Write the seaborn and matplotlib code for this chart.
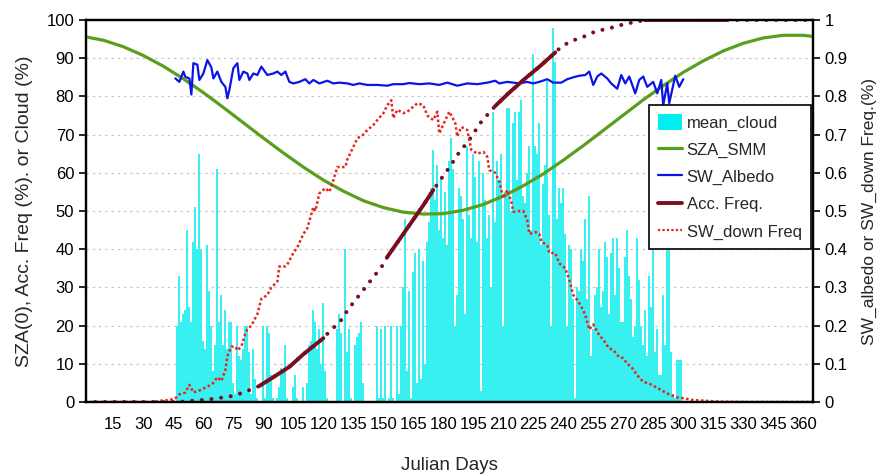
import numpy as np
import matplotlib
matplotlib.use("Agg")
import matplotlib.pyplot as plt
import seaborn as sns
from matplotlib.patches import Patch
from matplotlib.lines import Line2D

# mean cloud (%), one value per day starting at day 47
cloud_start = 47
cloud = [
    20, 33, 21, 23, 24, 45, 25, 21, 42, 51,
    40, 65, 40, 16, 14, 41, 29, 20, 8, 15,
    61, 21, 28, 15, 24, 14, 21, 21, 5, 2,
    20, 12, 11, 14, 20, 20, 13, 2, 14, 6,
    1, 0, 0, 20, 1, 20, 18, 7, 1, 0,
    1, 4, 9, 8, 15, 1, 0, 0, 4, 7,
    1, 0, 0, 4, 0, 5, 15, 16, 24, 21,
    14, 19, 10, 26, 8, 1, 0, 0, 0, 0,
    19, 23, 18, 0, 40, 13, 19, 1, 0, 15,
    17, 18, 21, 5, 0, 0, 0, 0, 0, 0,
    20, 1, 19, 1, 20, 0, 1, 20, 1, 0,
    20, 2, 20, 30, 48, 8, 29, 1, 34, 39,
    5, 40, 6, 37, 10, 42, 47, 56, 66, 53,
    62, 45, 59, 43, 55, 41, 63, 69, 61, 20,
    28, 56, 54, 48, 23, 67, 49, 43, 65, 59,
    42, 63, 3, 60, 53, 43, 49, 30, 76, 47,
    63, 58, 65, 20, 55, 77, 77, 50, 73, 76,
    58, 76, 79, 54, 52, 60, 67, 45, 91, 67,
    65, 73, 41, 57, 62, 84, 49, 20, 98, 89,
    48, 56, 52, 56, 44, 20, 41, 40, 27, 1,
    30, 29, 40, 37, 48, 27, 54, 12, 19, 28,
    30, 40, 25, 29, 42, 38, 23, 39, 43, 28,
    43, 35, 21, 21, 38, 45, 33, 27, 17, 20,
    43, 32, 20, 15, 24, 12, 33, 25, 42, 13,
    19, 7, 7, 28, 15, 55, 41, 13, 2, 1,
    11, 11, 11,
]

# solar zenith angle at solar noon (deg)
sza_days = [1, 10, 20, 30, 40, 50, 60, 70, 80, 90, 100, 110, 120, 130, 140, 150, 160, 170,
            180, 190, 200, 210, 220, 230, 240, 250, 260, 270, 280, 290, 300, 310, 320,
            330, 340, 350, 360, 365]
sza = [95.6, 94.7, 93.0, 90.7, 87.9, 84.6, 81.0, 77.1, 73.1, 69.1, 65.2, 61.5, 58.1, 55.2,
       52.7, 50.9, 49.7, 49.2, 49.3, 50.2, 51.7, 53.9, 56.6, 59.7, 63.3, 67.1, 71.1, 75.1,
       79.1, 82.8, 86.3, 89.3, 91.9, 93.9, 95.3, 96.0, 96.0, 95.7]

# shortwave albedo
alb_days = [46, 48, 50, 51, 53, 54, 55, 57, 58, 60, 62, 64, 65, 67, 69, 71, 72, 73, 75, 77,
            78, 80, 82, 83, 85, 87, 89, 92, 95, 97, 99, 101, 103, 105, 108, 111, 113, 115,
            118, 122, 125, 128, 132, 135, 138, 142, 147, 152, 155, 160, 163, 168, 173, 178,
            182, 187, 192, 197, 202, 206, 208, 212, 215, 218, 222, 225, 228, 232, 235, 239,
            242, 245, 248, 251, 253, 255, 257, 259, 262, 264, 267, 269, 271, 273, 276, 278,
            280, 282, 285, 287, 289, 290, 292, 293, 296, 298, 300]
albedo = [0.847, 0.838, 0.865, 0.851, 0.847, 0.805, 0.887, 0.883, 0.843, 0.860, 0.895, 0.876,
          0.847, 0.865, 0.838, 0.825, 0.795, 0.817, 0.874, 0.887, 0.843, 0.865, 0.860, 0.843,
          0.860, 0.856, 0.878, 0.856, 0.860, 0.865, 0.856, 0.865, 0.838, 0.834, 0.838, 0.845,
          0.834, 0.843, 0.834, 0.841, 0.834, 0.836, 0.834, 0.830, 0.834, 0.830, 0.830, 0.828,
          0.832, 0.832, 0.835, 0.832, 0.834, 0.830, 0.836, 0.828, 0.834, 0.832, 0.836, 0.841,
          0.834, 0.838, 0.836, 0.834, 0.838, 0.834, 0.838, 0.845, 0.836, 0.836, 0.845, 0.850,
          0.854, 0.856, 0.865, 0.830, 0.852, 0.860, 0.847, 0.834, 0.820, 0.856, 0.834, 0.852,
          0.808, 0.843, 0.852, 0.825, 0.838, 0.808, 0.843, 0.777, 0.834, 0.782, 0.854, 0.825,
          0.845]

# accumulated frequency
acc_days = [1, 45, 50, 54, 59, 63, 67, 72, 76, 80, 84, 88, 95, 103, 110, 120, 123, 127, 130,
            132, 135, 138, 141, 144, 147, 150, 152, 158, 164, 170, 175, 178, 181, 184, 186,
            189, 192, 195, 197, 200, 203, 206, 213, 221, 229, 236, 239, 244, 248, 252, 256,
            261, 265, 269, 275, 281, 300, 322, 340, 365]
acc = [0, 0, 0.001, 0.003, 0.005, 0.007, 0.010, 0.013, 0.018, 0.025, 0.033, 0.042, 0.065,
       0.092, 0.125, 0.167, 0.184, 0.204, 0.22, 0.24, 0.26, 0.28, 0.30, 0.32, 0.34, 0.36,
       0.38, 0.425, 0.47, 0.515, 0.555, 0.577, 0.60, 0.62, 0.64, 0.66, 0.68, 0.70, 0.72,
       0.74, 0.757, 0.775, 0.81, 0.847, 0.882, 0.915, 0.93, 0.945, 0.952, 0.96, 0.97, 0.976,
       0.981, 0.987, 0.994, 1.0, 1.0, 1.0, 1.0, 1.0]
acc_solid = [(88, 120), (152, 175), (206, 236), (281, 322)]

# shortwave downward frequency
swd_days = [1, 20, 35, 38, 43, 46, 48, 51, 53, 55, 58, 62, 65, 67, 69, 71, 72, 74, 76, 77,
            79, 81, 82, 84, 87, 89, 92, 94, 97, 98, 101, 102, 105, 107, 110, 112, 115, 116,
            118, 121, 123, 125, 127, 131, 132, 135, 137, 140, 142, 145, 147, 150, 152, 154,
            155, 157, 160, 162, 165, 167, 170, 172, 175, 177, 178, 181, 183, 186, 187, 189,
            192, 194, 197, 200, 202, 203, 206, 208, 210, 212, 214, 215, 218, 220, 222, 223,
            226, 228, 229, 232, 233, 236, 238, 241, 243, 245, 247, 249, 251, 253, 255, 258,
            260, 263, 265, 268, 270, 272, 274, 277, 280, 283, 286, 290, 293, 297, 300, 305,
            312, 318, 330, 365]
swd = [0, 0, 0, 0.003, 0.005, 0.01, 0.02, 0.025, 0.045, 0.025, 0.03, 0.04, 0.05, 0.065,
       0.055, 0.084, 0.12, 0.145, 0.145, 0.135, 0.145, 0.18, 0.19, 0.20, 0.23, 0.27, 0.28,
       0.30, 0.315, 0.355, 0.355, 0.36, 0.39, 0.405, 0.44, 0.455, 0.51, 0.50, 0.546, 0.56,
       0.55, 0.58, 0.615, 0.615, 0.635, 0.668, 0.69, 0.70, 0.712, 0.725, 0.738, 0.756, 0.777,
       0.79, 0.743, 0.765, 0.756, 0.76, 0.773, 0.782, 0.777, 0.75, 0.738, 0.76, 0.703, 0.738,
       0.76, 0.73, 0.695, 0.72, 0.712, 0.66, 0.65, 0.655, 0.642, 0.607, 0.60, 0.577, 0.533,
       0.555, 0.525, 0.498, 0.50, 0.50, 0.476, 0.44, 0.445, 0.44, 0.42, 0.41, 0.39, 0.39,
       0.363, 0.35, 0.32, 0.28, 0.267, 0.25, 0.228, 0.19, 0.203, 0.175, 0.163, 0.14, 0.136,
       0.117, 0.115, 0.10, 0.092, 0.07, 0.053, 0.048, 0.04, 0.028, 0.02, 0.012, 0.01, 0.005,
       0.003, 0.001, 0, 0]

x_ticks = list(range(15, 361, 15))
left_ticks = list(range(0, 101, 10))
right_ticks = [i / 10 for i in range(11)]
right_labels = ["0", "0.1", "0.2", "0.3", "0.4", "0.5", "0.6", "0.7", "0.8", "0.9", "1"]

c_cloud = "#38f0f0"
c_sza = "#5a9e1e"
c_alb = "#0a14e6"
c_acc = "#7a0e1e"
c_swd = "#e8231c"

sns.set_style("white")
plt.rcParams["font.family"] = ["Liberation Sans", "DejaVu Sans"]

fig = plt.figure(figsize=(8.77, 4.76), dpi=100)
ax = fig.add_axes([86 / 877, 1 - 402 / 476, 727 / 877, 382 / 476])
ax2 = ax.twinx()

cloud_days = np.arange(cloud_start, cloud_start + len(cloud))
ax.bar(cloud_days, cloud, width=1.0, color=c_cloud, linewidth=0, zorder=2,
       antialiased=False)
sns.lineplot(x=sza_days, y=sza, ax=ax, color=c_sza, linewidth=2.3, zorder=3)

sns.lineplot(x=alb_days, y=albedo, ax=ax2, color=c_alb, linewidth=1.6)
sns.lineplot(x=acc_days, y=acc, ax=ax2, color=c_acc, linewidth=2.9,
             linestyle=(0, (0.01, 2.4)), dash_capstyle="round")
acc_d = np.array(acc_days)
acc_v = np.array(acc)
for lo, hi in acc_solid:
    m = (acc_d >= lo) & (acc_d <= hi)
    ax2.plot(acc_d[m], acc_v[m], color=c_acc, linewidth=2.8, solid_capstyle="round")
sns.lineplot(x=swd_days, y=swd, ax=ax2, color=c_swd, linewidth=1.8,
             linestyle=(0, (1, 1)))

ax.set_xlim(1.3, 364.9)
ax.set_ylim(0, 100)
ax2.set_ylim(0, 1)
ax.set_xticks(x_ticks)
ax.set_xticklabels([str(t) for t in x_ticks])
ax.set_yticks(left_ticks)
ax2.set_yticks(right_ticks)
ax2.set_yticklabels(right_labels)

ax.set_axisbelow(True)
ax.yaxis.grid(True, color="#c8c8c8", linestyle=(0, (2, 3)), linewidth=0.9)
ax.xaxis.grid(False)
ax2.grid(False)

for a in (ax, ax2):
    for s in a.spines.values():
        s.set_color("black")
        s.set_linewidth(1.6)
    a.tick_params(direction="out", length=5, width=1.2, labelsize=12, colors="black")
ax.tick_params(axis="x", pad=6)

ax.set_xlabel("Julian Days", fontsize=13.5, labelpad=18)
ax.set_ylabel("SZA(0), Acc. Freq (%). or Cloud (%)", fontsize=14, labelpad=10)
ax2.set_ylabel("SW_albedo or SW_down Freq.(%)", fontsize=12.5, labelpad=10)

handles = [
    Patch(facecolor="#00f0f0", edgecolor="none"),
    Line2D([], [], color=c_sza, linewidth=2.3),
    Line2D([], [], color=c_alb, linewidth=1.6),
    Line2D([], [], color=c_acc, linewidth=2.8),
    Line2D([], [], color=c_swd, linewidth=1.6, linestyle=(0, (1, 1))),
]
labels = ["mean_cloud", "SZA_SMM", "SW_Albedo", "Acc. Freq.", "SW_down Freq"]
leg = ax2.legend(handles, labels, loc="upper right", bbox_to_anchor=(0.997, 0.777),
                 fontsize=12, frameon=True, fancybox=False, edgecolor="black",
                 framealpha=1, handlelength=1.4, handleheight=1.1, handletextpad=0.3,
                 labelspacing=0.62, borderpad=0.55, borderaxespad=0)
leg.get_frame().set_linewidth(1.2)

fig.savefig("out.png", dpi=100)
